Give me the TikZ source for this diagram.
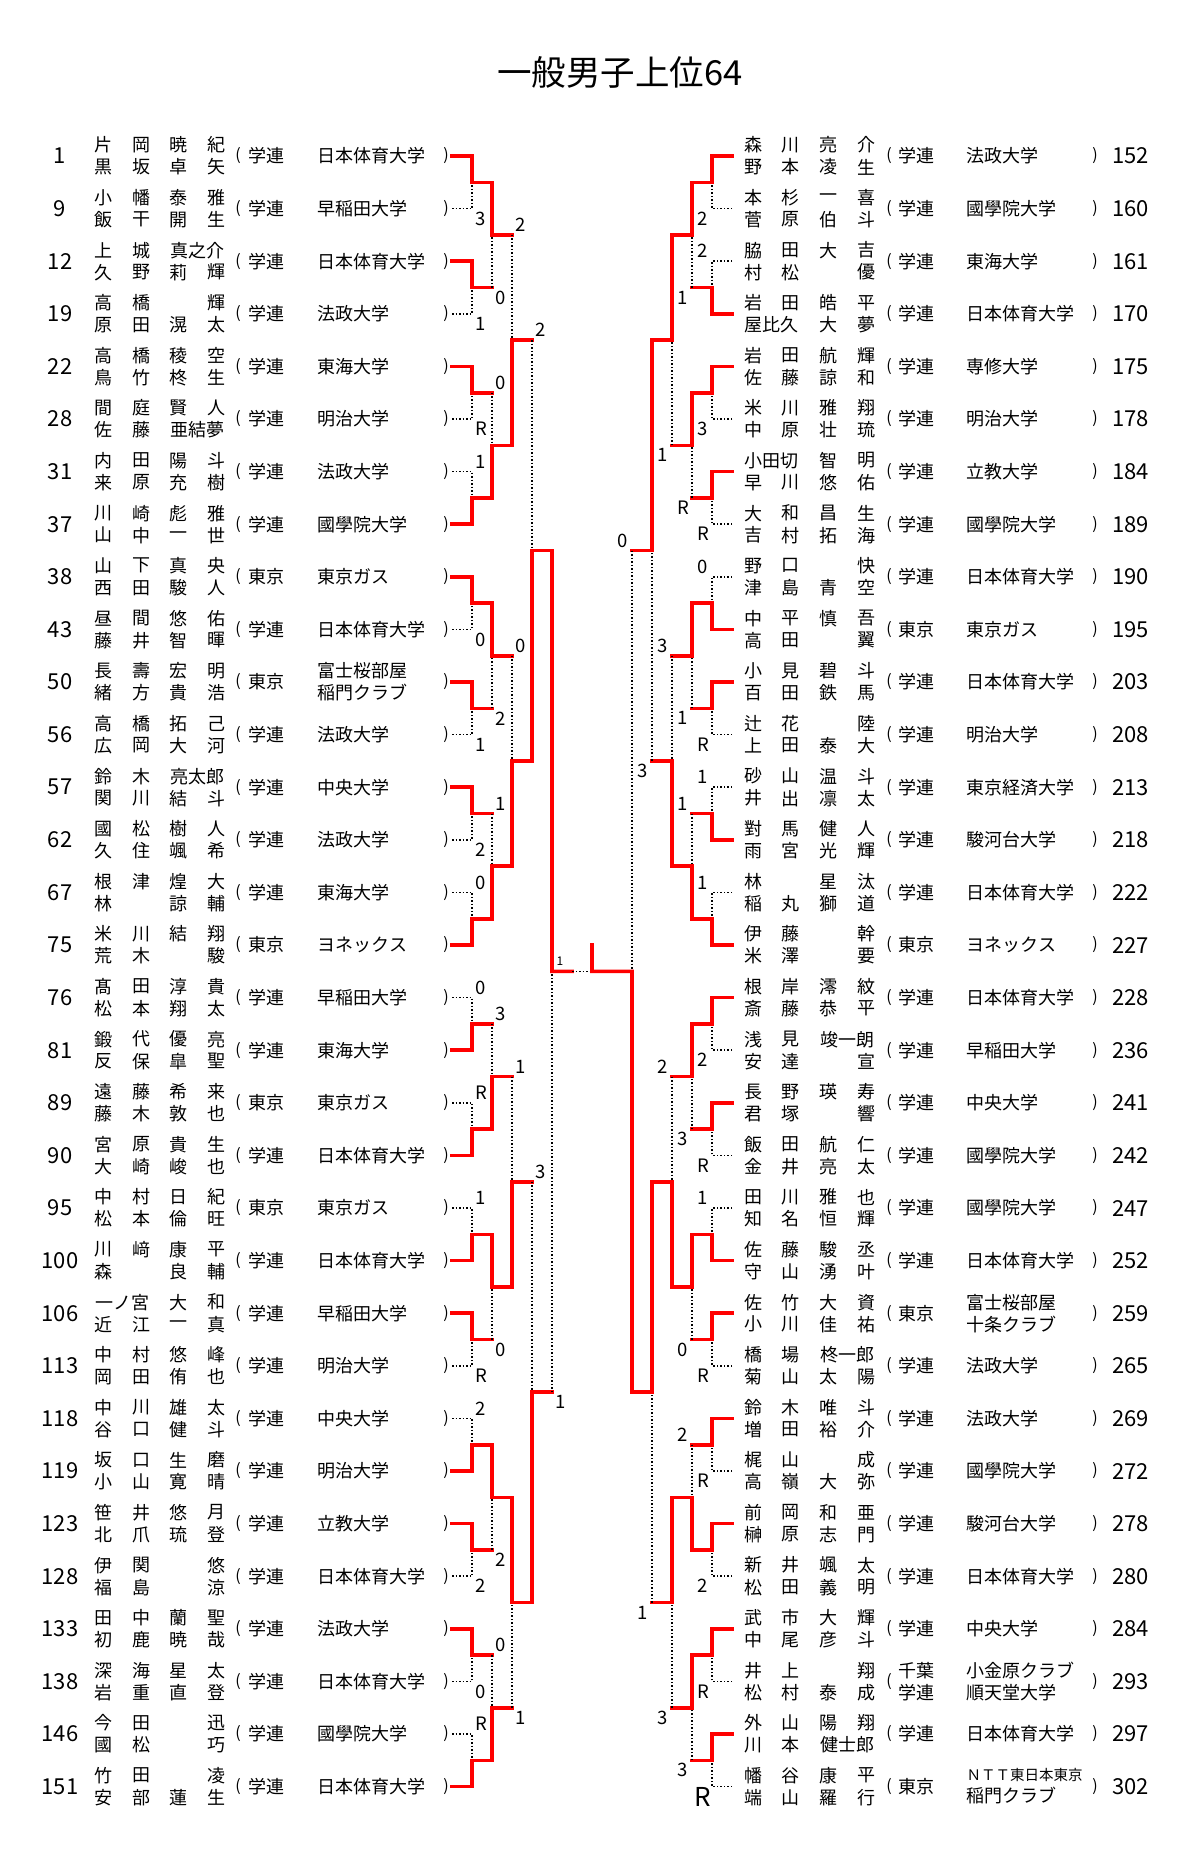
\documentclass[tikz,border=0pt]{standalone}
\usepackage{fontspec}
\setmainfont{Noto Sans CJK JP}
\usetikzlibrary{calc}
\tikzset{
  win/.style={draw=red, line width=3.6pt, line cap=rect, line join=miter},
  lose/.style={draw=black, line width=1.5pt, dash pattern=on 1.5pt off 2pt},
  txt/.style={inner sep=0pt, font=\fontsize{18}{22}\selectfont},
  aff/.style={txt, align=center},
  team/.style={txt, anchor=west, align=left},
  par/.style={inner sep=0pt, font=\fontsize{16}{16}\selectfont},
  numL/.style={inner sep=0pt, font=\fontsize{22}{22}\selectfont},
  numR/.style={numL, anchor=west},
  score/.style={inner sep=0pt, font=\fontsize{18.5}{18.5}\selectfont},
  fscore/.style={inner sep=0pt, font=\fontsize{12}{12}\selectfont},
  title/.style={inner sep=0pt, font=\fontsize{34.5}{34.5}\selectfont},
}
\def\xoneL{103.3}
\def\xoneR{753}
\def\csp{37.8}
% row: side, index, number, affiliation, team
\newcommand\Row[5]{%
  \pgfmathsetmacro\yy{156+52.6*#2}%
  \if#1L%
    \node[numL] (#1#2num) at (60,\yy) {#3};
    \node[par] (#1#2op) at (238,\yy) {(};
    \node[aff] (#1#2aff) at (266,\yy) {#4};
    \node[team] (#1#2team) at (317.5,\yy) {#5};
    \node[par] (#1#2cp) at (446,\yy) {)};
  \else
    \node[par] (#1#2op) at (889,\yy) {(};
    \node[aff] (#1#2aff) at (916,\yy) {#4};
    \node[team] (#1#2team) at (966.5,\yy) {#5};
    \node[par] (#1#2cp) at (1095,\yy) {)};
    \node[numR] (#1#2num) at (1112,\yy) {#3};
  \fi}
% name line with four cells
\newcommand\Nm[7]{%
  \if#3t\def\dy{-11}\else\def\dy{11}\fi
  \pgfmathsetmacro\yy{156+52.6*#2+\dy}%
  \pgfmathsetmacro\xa{\csname xone#1\endcsname}%
  \node[txt] (#1#2#3a) at (\xa,\yy) {#4};
  \node[txt] (#1#2#3b) at (\xa+\csp,\yy) {#5};
  \node[txt] (#1#2#3c) at (\xa+2*\csp,\yy) {#6};
  \node[txt] (#1#2#3d) at (\xa+3*\csp,\yy) {#7};}
% name line, wide given name
\newcommand\NmR[6]{%
  \if#3t\def\dy{-11}\else\def\dy{11}\fi
  \pgfmathsetmacro\yy{156+52.6*#2+\dy}%
  \pgfmathsetmacro\xa{\csname xone#1\endcsname}%
  \node[txt] (#1#2#3a) at (\xa,\yy) {#4};
  \node[txt] (#1#2#3b) at (\xa+\csp,\yy) {#5};
  \node[txt] (#1#2#3c) at (\xa+2.5*\csp,\yy) {#6};}
% name line, wide surname
\newcommand\NmL[6]{%
  \if#3t\def\dy{-11}\else\def\dy{11}\fi
  \pgfmathsetmacro\yy{156+52.6*#2+\dy}%
  \pgfmathsetmacro\xa{\csname xone#1\endcsname}%
  \node[txt] (#1#2#3a) at (\xa+0.5*\csp,\yy) {#4};
  \node[txt] (#1#2#3c) at (\xa+2*\csp,\yy) {#5};
  \node[txt] (#1#2#3d) at (\xa+3*\csp,\yy) {#6};}
% match: side, round, index, winner t/b, loser score
\newcommand\M[5]{%
  \pgfmathtruncatemacro\km{#2-1}%
  \pgfmathtruncatemacro\ia{2*#3}%
  \pgfmathtruncatemacro\ib{2*#3+1}%
  \if#4t\edef\iw{\ia}\edef\il{\ib}\def\ldy{10}\else\edef\iw{\ib}\edef\il{\ia}\def\ldy{-10}\fi
  \if#1L\def\ldx{9}\else\def\ldx{-9}\fi
  \draw[win] (#1\km n\iw) -| (#1#2n#3);
  \ifnum#2=1
    \draw[lose] (#1\km n\il) -| (#1#2n#3);
  \else
    \coordinate (#1#2n#3x) at (#1\km n\il -| #1#2n#3);
    \draw[win] (#1\km n\il) -- (#1#2n#3x);
    \draw[lose] (#1#2n#3x) -- (#1#2n#3);
  \fi
  \coordinate (#1#2n#3y) at (#1\km n\il -| #1#2n#3);
  \node[score] (sc#1#2n#3) at ([shift={(\ldx,\ldy)}]#1#2n#3y) {#5};}

\begin{document}
\begin{tikzpicture}[x=1pt,y=-1pt]
\fill[white] (0,0) rectangle (1200,1864);
\useasboundingbox (0,0) rectangle (1200,1864);
\node[title] (title) at (620,72) {一般男子上位64};

% bracket coordinates
\foreach \k in {0,...,5}{
  \pgfmathtruncatemacro\nn{2^(5-\k)-1}
  \foreach \j in {0,...,\nn}{
    \pgfmathsetmacro\yy{156+52.6*(\j*2^\k+(2^\k-1)/2)}
    \coordinate (L\k n\j) at ({452+20*\k},\yy);
    \coordinate (R\k n\j) at ({732-20*\k},\yy);
  }
}

% ---------------- left entries ----------------
\Row{L}{0}{1}{学連}{日本体育大学}
\Nm{L}{0}{t}{片}{岡}{暁}{紀} \Nm{L}{0}{b}{黒}{坂}{卓}{矢}
\Row{L}{1}{9}{学連}{早稲田大学}
\Nm{L}{1}{t}{小}{幡}{泰}{雅} \Nm{L}{1}{b}{飯}{干}{開}{生}
\Row{L}{2}{12}{学連}{日本体育大学}
\NmR{L}{2}{t}{上}{城}{真之介} \Nm{L}{2}{b}{久}{野}{莉}{輝}
\Row{L}{3}{19}{学連}{法政大学}
\Nm{L}{3}{t}{高}{橋}{}{輝} \Nm{L}{3}{b}{原}{田}{滉}{太}
\Row{L}{4}{22}{学連}{東海大学}
\Nm{L}{4}{t}{高}{橋}{稜}{空} \Nm{L}{4}{b}{鳥}{竹}{柊}{生}
\Row{L}{5}{28}{学連}{明治大学}
\Nm{L}{5}{t}{間}{庭}{賢}{人} \NmR{L}{5}{b}{佐}{藤}{亜結夢}
\Row{L}{6}{31}{学連}{法政大学}
\Nm{L}{6}{t}{内}{田}{陽}{斗} \Nm{L}{6}{b}{来}{原}{充}{樹}
\Row{L}{7}{37}{学連}{國學院大学}
\Nm{L}{7}{t}{川}{崎}{彪}{雅} \Nm{L}{7}{b}{山}{中}{一}{世}
\Row{L}{8}{38}{東京}{東京ガス}
\Nm{L}{8}{t}{山}{下}{真}{央} \Nm{L}{8}{b}{西}{田}{駿}{人}
\Row{L}{9}{43}{学連}{日本体育大学}
\Nm{L}{9}{t}{昼}{間}{悠}{佑} \Nm{L}{9}{b}{藤}{井}{智}{暉}
\Row{L}{10}{50}{東京}{富士桜部屋\\稲門クラブ}
\Nm{L}{10}{t}{長}{壽}{宏}{明} \Nm{L}{10}{b}{緒}{方}{貴}{浩}
\Row{L}{11}{56}{学連}{法政大学}
\Nm{L}{11}{t}{高}{橋}{拓}{己} \Nm{L}{11}{b}{広}{岡}{大}{河}
\Row{L}{12}{57}{学連}{中央大学}
\NmR{L}{12}{t}{鈴}{木}{亮太郎} \Nm{L}{12}{b}{関}{川}{結}{斗}
\Row{L}{13}{62}{学連}{法政大学}
\Nm{L}{13}{t}{國}{松}{樹}{人} \Nm{L}{13}{b}{久}{住}{颯}{希}
\Row{L}{14}{67}{学連}{東海大学}
\Nm{L}{14}{t}{根}{津}{煌}{大} \Nm{L}{14}{b}{林}{}{諒}{輔}
\Row{L}{15}{75}{東京}{ヨネックス}
\Nm{L}{15}{t}{米}{川}{結}{翔} \Nm{L}{15}{b}{荒}{木}{}{駿}
\Row{L}{16}{76}{学連}{早稲田大学}
\Nm{L}{16}{t}{髙}{田}{淳}{貴} \Nm{L}{16}{b}{松}{本}{翔}{太}
\Row{L}{17}{81}{学連}{東海大学}
\Nm{L}{17}{t}{鍛}{代}{優}{亮} \Nm{L}{17}{b}{反}{保}{皐}{聖}
\Row{L}{18}{89}{東京}{東京ガス}
\Nm{L}{18}{t}{遠}{藤}{希}{来} \Nm{L}{18}{b}{藤}{木}{敦}{也}
\Row{L}{19}{90}{学連}{日本体育大学}
\Nm{L}{19}{t}{宮}{原}{貴}{生} \Nm{L}{19}{b}{大}{崎}{峻}{也}
\Row{L}{20}{95}{東京}{東京ガス}
\Nm{L}{20}{t}{中}{村}{日}{紀} \Nm{L}{20}{b}{松}{本}{倫}{旺}
\Row{L}{21}{100}{学連}{日本体育大学}
\Nm{L}{21}{t}{川}{﨑}{康}{平} \Nm{L}{21}{b}{森}{}{良}{輔}
\Row{L}{22}{106}{学連}{早稲田大学}
\NmL{L}{22}{t}{一ノ宮}{大}{和} \Nm{L}{22}{b}{近}{江}{一}{真}
\Row{L}{23}{113}{学連}{明治大学}
\Nm{L}{23}{t}{中}{村}{悠}{峰} \Nm{L}{23}{b}{岡}{田}{侑}{也}
\Row{L}{24}{118}{学連}{中央大学}
\Nm{L}{24}{t}{中}{川}{雄}{太} \Nm{L}{24}{b}{谷}{口}{健}{斗}
\Row{L}{25}{119}{学連}{明治大学}
\Nm{L}{25}{t}{坂}{口}{生}{磨} \Nm{L}{25}{b}{小}{山}{寛}{晴}
\Row{L}{26}{123}{学連}{立教大学}
\Nm{L}{26}{t}{笹}{井}{悠}{月} \Nm{L}{26}{b}{北}{爪}{琉}{登}
\Row{L}{27}{128}{学連}{日本体育大学}
\Nm{L}{27}{t}{伊}{関}{}{悠} \Nm{L}{27}{b}{福}{島}{}{涼}
\Row{L}{28}{133}{学連}{法政大学}
\Nm{L}{28}{t}{田}{中}{蘭}{聖} \Nm{L}{28}{b}{初}{鹿}{暁}{哉}
\Row{L}{29}{138}{学連}{日本体育大学}
\Nm{L}{29}{t}{深}{海}{星}{太} \Nm{L}{29}{b}{岩}{重}{直}{登}
\Row{L}{30}{146}{学連}{國學院大学}
\Nm{L}{30}{t}{今}{田}{}{迅} \Nm{L}{30}{b}{國}{松}{}{巧}
\Row{L}{31}{151}{学連}{日本体育大学}
\Nm{L}{31}{t}{竹}{田}{}{凌} \Nm{L}{31}{b}{安}{部}{蓮}{生}

% ---------------- right entries ----------------
\Row{R}{0}{152}{学連}{法政大学}
\Nm{R}{0}{t}{森}{川}{亮}{介} \Nm{R}{0}{b}{野}{本}{凌}{生}
\Row{R}{1}{160}{学連}{國學院大学}
\Nm{R}{1}{t}{本}{杉}{一}{喜} \Nm{R}{1}{b}{菅}{原}{伯}{斗}
\Row{R}{2}{161}{学連}{東海大学}
\Nm{R}{2}{t}{脇}{田}{大}{吉} \Nm{R}{2}{b}{村}{松}{}{優}
\Row{R}{3}{170}{学連}{日本体育大学}
\Nm{R}{3}{t}{岩}{田}{皓}{平} \NmL{R}{3}{b}{屋比久}{大}{夢}
\Row{R}{4}{175}{学連}{専修大学}
\Nm{R}{4}{t}{岩}{田}{航}{輝} \Nm{R}{4}{b}{佐}{藤}{諒}{和}
\Row{R}{5}{178}{学連}{明治大学}
\Nm{R}{5}{t}{米}{川}{雅}{翔} \Nm{R}{5}{b}{中}{原}{壮}{琉}
\Row{R}{6}{184}{学連}{立教大学}
\NmL{R}{6}{t}{小田切}{智}{明} \Nm{R}{6}{b}{早}{川}{悠}{佑}
\Row{R}{7}{189}{学連}{國學院大学}
\Nm{R}{7}{t}{大}{和}{昌}{生} \Nm{R}{7}{b}{吉}{村}{拓}{海}
\Row{R}{8}{190}{学連}{日本体育大学}
\Nm{R}{8}{t}{野}{口}{}{快} \Nm{R}{8}{b}{津}{島}{青}{空}
\Row{R}{9}{195}{東京}{東京ガス}
\Nm{R}{9}{t}{中}{平}{慎}{吾} \Nm{R}{9}{b}{高}{田}{}{翼}
\Row{R}{10}{203}{学連}{日本体育大学}
\Nm{R}{10}{t}{小}{見}{碧}{斗} \Nm{R}{10}{b}{百}{田}{鉄}{馬}
\Row{R}{11}{208}{学連}{明治大学}
\Nm{R}{11}{t}{辻}{花}{}{陸} \Nm{R}{11}{b}{上}{田}{泰}{大}
\Row{R}{12}{213}{学連}{東京経済大学}
\Nm{R}{12}{t}{砂}{山}{温}{斗} \Nm{R}{12}{b}{井}{出}{凛}{太}
\Row{R}{13}{218}{学連}{駿河台大学}
\Nm{R}{13}{t}{對}{馬}{健}{人} \Nm{R}{13}{b}{雨}{宮}{光}{輝}
\Row{R}{14}{222}{学連}{日本体育大学}
\Nm{R}{14}{t}{林}{}{星}{汰} \Nm{R}{14}{b}{稲}{丸}{獅}{道}
\Row{R}{15}{227}{東京}{ヨネックス}
\Nm{R}{15}{t}{伊}{藤}{}{幹} \Nm{R}{15}{b}{米}{澤}{}{要}
\Row{R}{16}{228}{学連}{日本体育大学}
\Nm{R}{16}{t}{根}{岸}{澪}{紋} \Nm{R}{16}{b}{斎}{藤}{恭}{平}
\Row{R}{17}{236}{学連}{早稲田大学}
\NmR{R}{17}{t}{浅}{見}{竣一朗} \Nm{R}{17}{b}{安}{達}{}{宣}
\Row{R}{18}{241}{学連}{中央大学}
\Nm{R}{18}{t}{長}{野}{瑛}{寿} \Nm{R}{18}{b}{君}{塚}{}{響}
\Row{R}{19}{242}{学連}{國學院大学}
\Nm{R}{19}{t}{飯}{田}{航}{仁} \Nm{R}{19}{b}{金}{井}{亮}{太}
\Row{R}{20}{247}{学連}{國學院大学}
\Nm{R}{20}{t}{田}{川}{雅}{也} \Nm{R}{20}{b}{知}{名}{恒}{輝}
\Row{R}{21}{252}{学連}{日本体育大学}
\Nm{R}{21}{t}{佐}{藤}{駿}{丞} \Nm{R}{21}{b}{守}{山}{湧}{叶}
\Row{R}{22}{259}{東京}{富士桜部屋\\十条クラブ}
\Nm{R}{22}{t}{佐}{竹}{大}{資} \Nm{R}{22}{b}{小}{川}{佳}{祐}
\Row{R}{23}{265}{学連}{法政大学}
\NmR{R}{23}{t}{橋}{場}{柊一郎} \Nm{R}{23}{b}{菊}{山}{太}{陽}
\Row{R}{24}{269}{学連}{法政大学}
\Nm{R}{24}{t}{鈴}{木}{唯}{斗} \Nm{R}{24}{b}{増}{田}{裕}{介}
\Row{R}{25}{272}{学連}{國學院大学}
\Nm{R}{25}{t}{梶}{山}{}{成} \Nm{R}{25}{b}{高}{嶺}{大}{弥}
\Row{R}{26}{278}{学連}{駿河台大学}
\Nm{R}{26}{t}{前}{岡}{和}{亜} \Nm{R}{26}{b}{榊}{原}{志}{門}
\Row{R}{27}{280}{学連}{日本体育大学}
\Nm{R}{27}{t}{新}{井}{颯}{太} \Nm{R}{27}{b}{松}{田}{義}{明}
\Row{R}{28}{284}{学連}{中央大学}
\Nm{R}{28}{t}{武}{市}{大}{輝} \Nm{R}{28}{b}{中}{尾}{彦}{斗}
\Row{R}{29}{293}{千葉\\学連}{小金原クラブ\\順天堂大学}
\Nm{R}{29}{t}{井}{上}{}{翔} \Nm{R}{29}{b}{松}{村}{泰}{成}
\Row{R}{30}{297}{学連}{日本体育大学}
\Nm{R}{30}{t}{外}{山}{陽}{翔} \NmR{R}{30}{b}{川}{本}{健士郎}
\Row{R}{31}{302}{東京}{{\fontsize{14.5}{14.5}\selectfont ＮＴＴ東日本東京}\\稲門クラブ}
\Nm{R}{31}{t}{幡}{谷}{康}{平} \Nm{R}{31}{b}{端}{山}{羅}{行}

% ---------------- left bracket ----------------
\M{L}{1}{0}{t}{3}  \M{L}{1}{1}{t}{1}  \M{L}{1}{2}{t}{R}  \M{L}{1}{3}{b}{1}
\M{L}{1}{4}{t}{0}  \M{L}{1}{5}{t}{1}  \M{L}{1}{6}{t}{2}  \M{L}{1}{7}{b}{0}
\M{L}{1}{8}{b}{0}  \M{L}{1}{9}{b}{R}  \M{L}{1}{10}{b}{1} \M{L}{1}{11}{t}{R}
\M{L}{1}{12}{b}{2} \M{L}{1}{13}{t}{2} \M{L}{1}{14}{t}{0} \M{L}{1}{15}{b}{R}
\M{L}{2}{0}{t}{0}  \M{L}{2}{1}{b}{0}  \M{L}{2}{2}{t}{2}  \M{L}{2}{3}{b}{1}
\M{L}{2}{4}{b}{3}  \M{L}{2}{5}{t}{0}  \M{L}{2}{6}{t}{2}  \M{L}{2}{7}{b}{0}
\M{L}{3}{0}{b}{2}  \M{L}{3}{1}{b}{0}  \M{L}{3}{2}{b}{1}  \M{L}{3}{3}{t}{1}
\M{L}{4}{0}{b}{2}  \M{L}{4}{1}{b}{3}
\M{L}{5}{0}{t}{1}

% ---------------- right bracket ----------------
\M{R}{1}{0}{t}{2}  \M{R}{1}{1}{b}{2}  \M{R}{1}{2}{t}{3}  \M{R}{1}{3}{t}{R}
\M{R}{1}{4}{b}{0}  \M{R}{1}{5}{t}{R}  \M{R}{1}{6}{b}{1}  \M{R}{1}{7}{b}{1}
\M{R}{1}{8}{t}{2}  \M{R}{1}{9}{t}{R}  \M{R}{1}{10}{b}{1} \M{R}{1}{11}{t}{R}
\M{R}{1}{12}{t}{R} \M{R}{1}{13}{t}{2} \M{R}{1}{14}{t}{R}
\M{R}{1}{15}{t}{\raisebox{-5pt}{\fontsize{26}{26}\selectfont R}}
\M{R}{2}{0}{t}{1}  \M{R}{2}{1}{t}{R}  \M{R}{2}{2}{t}{1}  \M{R}{2}{3}{b}{1}
\M{R}{2}{4}{t}{3}  \M{R}{2}{5}{t}{0}  \M{R}{2}{6}{b}{2}  \M{R}{2}{7}{t}{3}
\M{R}{3}{0}{t}{1}  \M{R}{3}{1}{b}{3}  \M{R}{3}{2}{b}{2}  \M{R}{3}{3}{t}{3}
\M{R}{4}{0}{t}{3}  \M{R}{4}{1}{t}{1}
\M{R}{5}{0}{b}{0}

% ---------------- final ----------------
\coordinate (F) at ($(L5n0)!0.5!(R5n0)$);
\coordinate (Fl) at ($(L5n0)!0.25!(R5n0)$);
\coordinate (champ) at ([shift={(0,-26.5)}]F);
\draw[win] (L5n0) -- (Fl);
\draw[lose] (Fl) -- (F);
\draw[win] (R5n0) -- (F) -- (champ);
\node[fscore] (finalscore) at ([shift={(8,-10.5)}]L5n0) {1};
\end{tikzpicture}
\end{document}
